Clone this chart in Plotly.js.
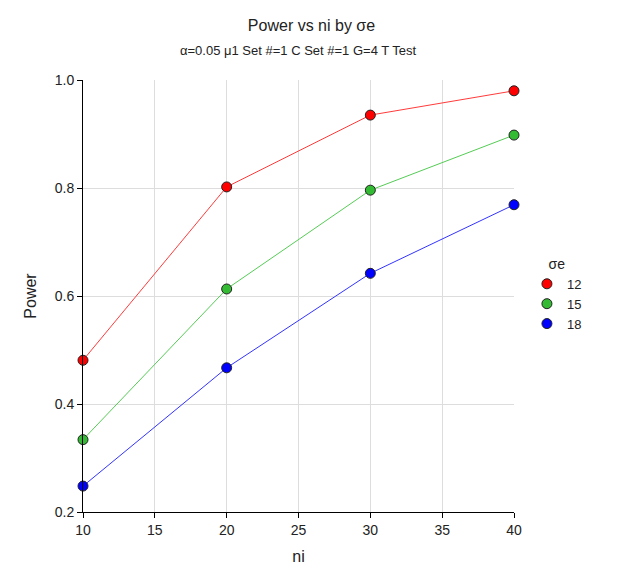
<!DOCTYPE html>
<html>
<head>
<meta charset="utf-8">
<script src="https://cdn.plot.ly/plotly-3.0.1.min.js"></script>
<style>html,body{margin:0;padding:0;background:#fff;}#chart{width:623px;height:579px;}</style>
</head>
<body>
<div id="chart"></div>
<script>
const ni = [10, 20, 30, 40];
const seriesNames = ["12", "15", "18"];
const power12 = [0.481, 0.802, 0.935, 0.980];
const power15 = [0.334, 0.613, 0.796, 0.898];
const power18 = [0.248, 0.467, 0.642, 0.769];
const lineColors = ["#ff3b3b", "#55cc55", "#3333ff"];
const markerColors = ["#ff0000", "#33bb33", "#0000ff"];

const ys = [power12, power15, power18];
const lineTraces = ys.map((y, i) => ({
  x: ni, y: y, name: seriesNames[i], type: "scatter", mode: "lines", showlegend: false,
  line: {color: lineColors[i], width: 1}, cliponaxis: false
}));
const markerTraces = ys.map((y, i) => ({
  x: ni, y: y, name: seriesNames[i], type: "scatter", mode: "markers",
  marker: {color: markerColors[i], size: 10, line: {color: "#222", width: 1}}, cliponaxis: false
}));

const font = "Liberation Sans, Arial, sans-serif";
const layout = {
  width: 623, height: 579,
  margin: {l: 83, r: 109, t: 80, b: 67},
  paper_bgcolor: "#fff", plot_bgcolor: "#fff",
  font: {family: font, color: "#222", size: 14},
  title: {text: "Power vs ni by σe", font: {size: 16, family: font, color: "#222"}, x: 0.5, xanchor: "center", y: 1 - 25/579, yanchor: "middle"},
  annotations: [{text: "α=0.05 μ1 Set #=1 C Set #=1 G=4 T Test", xref: "paper", yref: "paper", x: 0.5, y: 1, yshift: 30, showarrow: false, xanchor: "center", yanchor: "middle", font: {size: 13, family: font, color: "#222"}}],
  xaxis: {
    range: [10, 40], tickvals: [10, 15, 20, 25, 30, 35, 40],
    showgrid: true, gridcolor: "#dddddd", gridwidth: 1,
    showline: true, linecolor: "#000", linewidth: 1,
    ticks: "outside", ticklen: 5, tickcolor: "#000",
    zeroline: false, tickfont: {size: 14},
    title: {text: "ni", font: {size: 16}, standoff: 14}
  },
  yaxis: {
    range: [0.2, 1.0], tickvals: [0.2, 0.4, 0.6, 0.8, 1.0], ticktext: ["0.2", "0.4", "0.6", "0.8", "1.0"],
    showgrid: true, gridcolor: "#dddddd", gridwidth: 1,
    showline: true, linecolor: "#000", linewidth: 1,
    ticks: "outside", ticklen: 5, tickcolor: "#000",
    zeroline: false, tickfont: {size: 14},
    title: {text: "Power", font: {size: 16}, standoff: 14}
  },
  showlegend: true,
  legend: {x: 1.03, y: 0.605, xanchor: "left", yanchor: "top", title: {text: "σe", font: {size: 14}, side: "top center"}, font: {size: 13}, itemwidth: 30, tracegroupgap: 0, bgcolor: "rgba(0,0,0,0)"}
};

Plotly.newPlot("chart", lineTraces.concat(markerTraces), layout, {displayModeBar: false, staticPlot: true});
</script>
</body>
</html>
